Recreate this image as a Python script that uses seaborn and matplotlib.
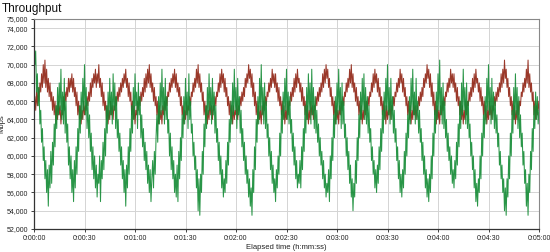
import numpy as np
import pandas as pd
import matplotlib
matplotlib.use("Agg")
import matplotlib.pyplot as plt
import seaborn as sns
from matplotlib.ticker import FuncFormatter, FixedLocator

# Throughput in thousands of Mbps, one sample every half second (0:00:00 .. 0:05:00)
sample_step_s = 0.5

green_k = [
    73.5, 70.0, 71.5, 67.0, 69.0, 65.5, 67.5, 63.5,
    65.0, 61.5, 63.0, 59.5, 61.0, 57.5, 59.5, 56.0, 58.5, 54.5, 59.0, 56.5, 60.5, 57.0, 61.5, 59.0,
    63.5, 61.0, 65.5, 63.0, 67.5, 64.5, 68.0, 65.0, 69.5, 64.0,
    67.0, 63.5, 68.5, 62.5, 66.0, 61.5,
    63.5, 59.0, 61.0, 57.5, 60.0, 56.0, 58.5, 55.0, 59.5, 56.5, 61.0, 58.0,
    63.0, 60.5, 65.5, 62.5, 67.0, 64.0, 68.5, 65.0, 70.0, 64.5, 67.5, 63.0,
    66.0, 62.0, 64.5, 60.5, 62.5, 58.5, 61.0, 57.5, 60.0, 56.5,
    59.0, 55.5, 58.0, 57.0, 60.0, 55.0, 59.5, 57.5, 61.5, 58.5, 63.0, 60.0,
    65.5, 62.5, 67.0, 64.0, 68.5, 64.5, 67.0, 63.5, 69.0, 65.0, 68.0, 63.0, 66.5, 62.0,
    64.0, 60.5, 62.5, 59.0, 61.0, 57.5, 59.5, 56.0, 58.5, 54.5, 59.0, 56.5, 61.0, 58.0, 63.0, 60.5,
    65.5, 62.5, 67.5, 64.0, 69.0, 65.5, 67.0, 63.0, 68.0, 64.5, 66.5, 62.0,
    64.5, 61.0, 63.0, 59.5, 61.5, 58.5, 60.5, 57.0, 59.0, 56.0, 58.5, 55.0, 57.5, 59.5, 56.5, 60.5, 58.0, 62.0,
    64.5, 61.5, 66.5, 63.5, 68.0, 64.5, 69.5, 65.0, 67.5, 63.5, 68.5, 64.0, 66.5, 62.5,
    64.0, 60.0, 62.5, 58.5, 61.0, 57.5, 59.5, 56.0, 58.0, 55.5, 59.0, 55.0, 60.5, 57.5, 62.0, 59.5,
    64.5, 62.0, 66.5, 63.5, 68.5, 64.5, 67.0, 63.0, 69.0, 64.0, 66.0, 62.5,
    63.5, 60.0, 61.5, 58.5, 60.0, 56.5, 58.5, 54.0, 57.5, 53.5, 58.0, 56.0, 60.5, 58.0,
    63.5, 61.0, 65.5, 63.0, 67.5, 64.5, 69.0, 65.0, 67.5, 63.5, 68.5, 64.5, 67.0, 62.5, 65.5, 61.5,
    63.0, 59.5, 61.5, 58.0, 60.0, 56.5, 58.5, 55.5, 57.5, 56.0, 59.5, 57.0, 61.5, 59.0,
    64.0, 61.5, 66.0, 63.5, 68.0, 64.5, 69.5, 65.0, 67.5, 63.0, 68.5, 64.5, 66.5, 62.5, 65.0, 61.0,
    63.0, 59.5, 61.5, 58.0, 60.0, 57.0, 58.5, 55.5, 57.5, 54.5, 56.5, 53.5, 58.5, 56.0, 61.0, 58.5,
    64.0, 61.5, 66.5, 63.5, 68.5, 65.0, 70.0, 64.5, 67.5, 63.5, 68.0, 63.0, 66.0, 62.0,
    63.5, 60.0, 62.0, 58.5, 60.5, 57.0, 59.0, 56.0, 57.5, 55.0, 58.5, 56.5, 60.0, 58.0, 62.5, 60.0,
    65.0, 62.5, 67.0, 64.0, 68.5, 65.0, 69.5, 64.0, 67.0, 63.5, 66.5, 62.5,
    64.0, 60.5, 62.5, 59.0, 61.0, 57.5, 59.5, 56.5, 58.0, 57.0, 59.5, 56.5, 61.0, 58.5, 63.0, 60.5,
    65.5, 62.5, 67.5, 64.0, 69.0, 65.0, 68.0, 63.5, 69.5, 64.5, 67.5, 63.0, 66.5, 62.5, 65.0, 61.5,
    63.5, 60.0, 62.0, 59.0, 60.5, 57.5, 59.5, 56.5, 58.0, 55.5, 57.0, 56.0, 58.5, 55.0, 60.0, 57.5, 62.0, 59.5,
    64.5, 62.0, 66.5, 63.5, 68.0, 64.5, 69.5, 65.0, 67.5, 63.0, 68.0, 63.5, 66.0, 62.0,
    63.5, 60.0, 62.0, 58.5, 60.5, 57.0, 59.0, 55.5, 57.5, 54.0, 57.0, 55.5, 59.5, 57.0, 62.0, 59.5,
    64.5, 62.0, 67.0, 64.0, 68.5, 65.0, 69.0, 64.0, 67.5, 63.5, 66.5, 62.5, 65.5, 61.5,
    63.0, 59.5, 61.0, 58.0, 59.5, 56.5, 58.5, 56.0, 59.0, 57.0, 61.0, 58.5, 63.0, 60.5,
    65.0, 62.5, 67.0, 64.0, 68.5, 65.0, 70.0, 64.5, 67.5, 63.5, 68.5, 64.0, 66.5, 62.5, 65.0, 61.5,
    63.0, 59.5, 61.0, 57.5, 59.5, 56.0, 58.0, 55.5, 58.5, 56.5, 60.5, 58.0, 62.5, 60.0,
    64.5, 62.0, 66.5, 63.5, 68.5, 65.0, 69.5, 64.5, 67.0, 63.5, 68.5, 64.0, 66.0, 62.5, 65.0, 61.5,
    63.0, 59.5, 61.5, 58.0, 60.0, 56.5, 58.5, 55.5, 57.5, 55.0, 58.0, 56.0, 60.0, 57.5, 62.5, 60.0,
    65.0, 62.5, 67.0, 64.0, 69.0, 65.0, 70.5, 64.5, 67.5, 63.5, 68.0, 63.0, 66.0, 62.0,
    64.0, 60.5, 62.5, 59.5, 61.0, 58.0, 60.0, 57.0, 58.5, 56.5, 59.5, 57.5, 61.5, 59.0, 63.5, 61.0,
    66.0, 63.0, 68.0, 64.5, 69.5, 65.0, 67.5, 63.5, 68.0, 63.0, 66.0, 62.0,
    63.5, 60.0, 61.5, 58.5, 60.0, 56.5, 58.5, 55.0, 57.0, 54.5, 57.5, 56.0, 60.0, 57.5, 62.5, 60.0,
    64.5, 62.0, 66.5, 63.5, 68.5, 65.0, 70.0, 64.5, 67.5, 63.5, 68.5, 64.0, 67.0, 63.0, 66.0, 62.5, 64.5, 61.0,
    62.5, 59.0, 60.5, 57.5, 59.0, 56.0, 57.5, 54.0, 56.5, 53.5, 57.5, 55.5, 60.0, 57.5, 62.5, 60.0,
    65.0, 62.5, 67.5, 64.0, 69.0, 64.5, 67.5, 63.0, 66.5, 62.0, 64.5, 61.0,
    62.5, 59.0, 60.5, 57.0, 58.5, 54.5, 57.0, 53.5, 58.0, 56.0, 60.5, 58.5, 63.0, 60.5,
    65.5, 63.0, 67.0, 64.0, 66.5, 63.5, 65.0,
]

red_k = [
    64.0, 66.5, 65.0, 67.0, 65.5, 67.5, 66.0, 68.0,
    67.0, 69.0, 67.5, 70.0, 68.0, 70.5, 67.5, 69.5, 67.0, 68.5, 66.5, 68.0, 66.0, 67.0, 65.0, 66.5,
    64.5, 66.0, 63.5, 65.5, 64.0, 66.0, 64.5, 65.5, 63.5, 65.0,
    64.5, 66.5, 65.0, 67.0, 66.0, 67.5,
    66.5, 68.5, 67.0, 68.5, 67.5, 69.0, 67.0, 68.5, 66.5, 67.5, 65.5, 67.0,
    64.5, 66.0, 64.0, 65.5, 63.5, 65.0, 64.0, 66.0, 64.5, 65.5, 65.0, 66.5,
    65.5, 67.0, 66.0, 68.0, 66.5, 68.5, 67.5, 69.0, 68.0, 69.5,
    67.5, 69.0, 68.0, 70.0, 67.5, 68.5, 66.5, 68.0, 65.5, 67.0, 65.0, 66.0,
    64.0, 65.5, 63.5, 65.0, 64.0, 66.0, 64.5, 65.5, 64.0, 65.5, 65.0, 66.5, 65.5, 67.0,
    66.0, 67.5, 66.5, 68.0, 67.0, 68.5, 67.5, 69.0, 68.0, 69.5, 67.5, 68.5, 66.5, 68.0, 66.0, 67.0,
    64.5, 66.0, 64.0, 65.5, 63.5, 65.0, 64.5, 66.0, 65.0, 66.5, 65.5, 67.0,
    66.0, 67.5, 66.5, 68.5, 67.0, 69.0, 67.5, 69.5, 68.0, 70.0, 67.5, 69.0, 67.0, 68.0, 66.0, 67.5, 65.5, 66.5,
    64.5, 66.0, 63.5, 65.5, 64.0, 65.0, 63.5, 65.5, 64.5, 66.0, 65.0, 66.5, 65.5, 67.0,
    66.5, 68.0, 67.0, 68.5, 67.5, 69.0, 68.0, 69.5, 67.5, 69.0, 67.0, 68.0, 66.5, 67.5, 65.5, 66.5,
    64.5, 65.5, 63.5, 65.0, 64.0, 66.0, 64.5, 65.5, 65.0, 66.5, 65.5, 67.0,
    66.5, 68.0, 67.0, 68.5, 67.5, 69.5, 68.0, 70.0, 67.5, 69.0, 67.0, 68.0, 66.0, 67.0,
    64.5, 66.0, 64.0, 65.5, 63.5, 65.0, 64.0, 66.0, 64.5, 65.5, 64.0, 65.5, 65.0, 66.5, 65.5, 67.0,
    66.5, 68.0, 67.0, 69.0, 67.5, 69.5, 68.0, 69.0, 67.0, 68.5, 66.5, 67.5, 65.5, 66.5,
    64.5, 66.0, 64.0, 65.5, 63.5, 65.5, 64.0, 65.0, 64.5, 66.0, 64.0, 65.5, 65.0, 66.5, 65.5, 67.0,
    66.0, 67.5, 66.5, 68.5, 67.5, 69.0, 68.0, 70.0, 68.5, 69.5, 67.5, 69.0, 66.5, 68.0, 65.5, 67.0,
    64.5, 66.0, 63.5, 65.5, 64.0, 65.0, 63.5, 65.5, 64.5, 66.0, 65.0, 66.5, 65.5, 67.0,
    66.5, 68.0, 67.0, 68.5, 67.5, 69.5, 68.0, 69.0, 67.5, 69.0, 67.0, 68.0, 66.0, 67.5, 65.5, 66.5,
    64.5, 66.0, 64.0, 65.5, 63.5, 65.0, 64.0, 66.0, 64.5, 66.0, 65.5, 67.0,
    66.0, 67.5, 66.5, 68.5, 67.0, 69.0, 67.5, 69.5, 68.0, 68.5, 67.0, 68.0, 66.0, 67.5, 65.5, 66.5,
    64.5, 66.0, 64.0, 65.5, 63.5, 65.0, 64.0, 66.0, 64.5, 65.5, 64.0, 65.5, 65.0, 66.5, 65.5, 67.0,
    66.0, 67.5, 66.5, 68.0, 67.0, 69.0, 67.5, 69.5, 68.0, 70.0, 68.5, 69.5, 67.5, 68.5, 66.5, 67.5, 65.5, 66.5,
    64.5, 66.0, 63.5, 65.5, 64.0, 65.0, 63.5, 65.5, 64.5, 66.0, 65.0, 66.5, 65.5, 67.0,
    66.5, 68.0, 67.0, 68.5, 67.5, 69.5, 68.0, 70.0, 67.5, 69.0, 67.0, 68.0, 66.0, 67.5, 65.5, 66.5,
    64.5, 66.0, 64.0, 65.5, 63.5, 65.0, 64.0, 66.0, 64.5, 66.0, 65.0, 66.5, 65.5, 67.0,
    66.5, 68.0, 67.0, 69.0, 67.5, 69.5, 68.0, 69.0, 67.0, 68.5, 66.5, 67.5, 65.5, 66.5,
    64.5, 66.0, 64.0, 65.5, 63.5, 65.5, 64.0, 65.0, 64.5, 66.0, 64.0, 65.5, 65.0, 66.5, 65.5, 67.0,
    66.5, 68.0, 67.0, 68.5, 67.5, 69.5, 68.0, 69.0, 67.0, 68.5, 66.5, 67.5, 65.5, 66.5,
    64.5, 66.0, 64.0, 65.5, 63.5, 65.0, 64.0, 66.0, 64.5, 65.5, 64.0, 65.5, 65.0, 66.5, 65.5, 67.0,
    66.0, 67.5, 66.5, 68.5, 67.5, 69.0, 68.0, 70.0, 68.5, 69.5, 67.5, 69.0, 66.5, 68.0, 65.5, 67.0,
    64.5, 66.0, 63.5, 65.5, 64.0, 65.0, 63.5, 65.5, 64.5, 66.0, 65.0, 66.5, 65.5, 67.0,
    66.5, 68.0, 67.0, 68.5, 67.5, 69.5, 68.0, 69.0, 67.5, 69.0, 67.0, 68.0, 66.0, 67.5, 65.5, 66.5,
    64.5, 66.0, 64.0, 65.5, 63.5, 65.0, 64.0, 66.0, 64.5, 66.0, 65.5, 67.0,
    66.0, 67.5, 66.5, 68.5, 67.0, 69.0, 67.5, 69.5, 68.0, 68.5, 67.0, 68.0, 66.0, 67.5, 65.5, 66.5,
    64.5, 66.0, 64.0, 65.5, 63.5, 65.0, 64.0, 66.0, 64.5, 65.5, 64.0, 65.5, 65.0, 66.5, 65.5, 67.0, 66.0, 67.5,
    66.5, 68.0, 67.0, 69.0, 67.5, 69.5, 68.0, 70.5, 68.5, 69.5, 67.5, 68.5, 66.5, 67.5, 65.5, 66.5,
    64.5, 66.0, 64.0, 65.5, 63.5, 65.0, 64.0, 66.0, 64.5, 66.0, 65.5, 67.0,
    66.5, 68.0, 67.0, 68.5, 67.5, 69.5, 68.0, 70.5, 67.5, 69.0, 67.0, 68.0, 66.0, 67.0,
    64.5, 66.0, 64.0, 65.5, 64.5, 66.0, 65.0,
]

y_ticks = [52000, 54000, 56000, 58000, 60000, 62000, 64000, 66000,
           68000, 70000, 72000, 74000, 75000]
x_ticks = [0, 30, 60, 90, 120, 150, 180, 210, 240, 270, 300]
x_tick_labels = ["0:00:00", "0:00:30", "0:01:00", "0:01:30", "0:02:00",
                 "0:02:30", "0:03:00", "0:03:30", "0:04:00", "0:04:30",
                 "0:05:00"]

sns.set_theme(style="white")
plt.rcParams['font.family'] = ['Liberation Sans', 'DejaVu Sans']

red_df = pd.DataFrame({"t": np.arange(len(red_k)) * sample_step_s,
                       "mbps": np.array(red_k) * 1000})
green_df = pd.DataFrame({"t": np.arange(len(green_k)) * sample_step_s,
                         "mbps": np.array(green_k) * 1000})

fig = plt.figure(figsize=(5.5, 2.52), dpi=100)
ax = fig.add_axes([34 / 550, 1 - 229 / 252, 505 / 550, 210 / 252])

sns.lineplot(data=red_df, x="t", y="mbps", ax=ax, color="#8f2212", lw=0.75, alpha=0.9)
sns.lineplot(data=green_df, x="t", y="mbps", ax=ax, color="#118a33", lw=0.75, alpha=0.9)

ax.set_xlim(0, 300)
ax.set_ylim(52000, 75000)
ax.yaxis.set_major_locator(FixedLocator(y_ticks))
ax.yaxis.set_major_formatter(FuncFormatter(lambda v, p: f"{int(v):,}"))
ax.set_xticks(x_ticks)
ax.set_xticklabels(x_tick_labels)
ax.grid(True, color="#d4d4d4", lw=0.7)
ax.set_axisbelow(True)
ax.tick_params(axis="both", labelsize=5, length=2.5, width=0.6, pad=1.5,
               colors="#222222", direction="out")
ax.tick_params(axis="both", which="both", bottom=True, left=True)
for s in ["top", "right"]:
    ax.spines[s].set_color("#888888")
    ax.spines[s].set_linewidth(0.8)
for s in ["left", "bottom"]:
    ax.spines[s].set_color("#333333")
    ax.spines[s].set_linewidth(0.9)
ax.set_xlabel("Elapsed time (h:mm:ss)", fontsize=5.5, labelpad=1.5, color="#222222")
ax.set_ylabel("Mbps", fontsize=5.5, color="#222222")
ax.yaxis.set_label_coords(-0.056, 0.5)
fig.text(2 / 550, 1 - 3 / 252, "Throughput", fontsize=8.5, va="top", ha="left",
         color="#111111")

fig.savefig("out.png", dpi=100)
